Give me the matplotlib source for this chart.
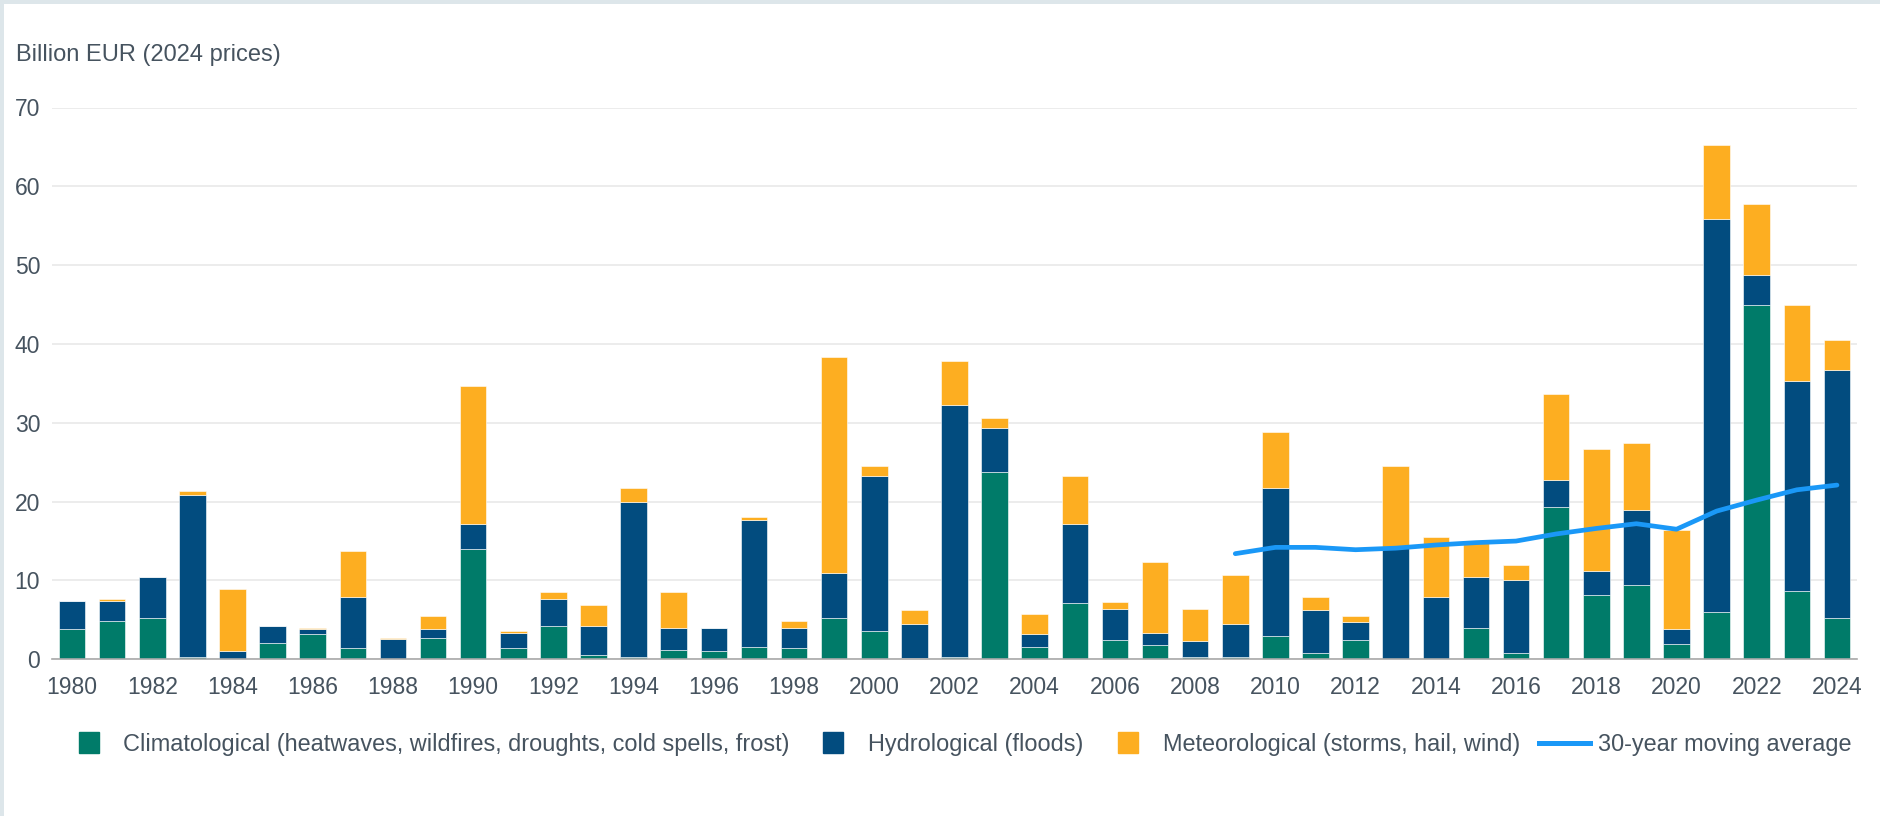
import numpy as np
import matplotlib.pyplot as plt
from matplotlib.patches import Rectangle
from matplotlib.lines import Line2D

# data (billion EUR, 2024 prices)
years = list(range(1980, 2025))

climatological = [3.8, 4.9, 5.3, 0.3, 0.0, 2.1, 3.2, 1.4, 0.1, 2.75,
                  14.0, 1.4, 4.2, 0.6, 0.3, 1.2, 1.0, 1.6, 1.4, 5.3,
                  3.6, 0.2, 0.3, 23.7, 1.6, 7.2, 2.5, 1.8, 0.3, 0.3,
                  2.9, 0.8, 2.5, 0.1, 0.1, 4.0, 0.8, 19.3, 8.1, 9.4,
                  1.9, 6.0, 44.9, 8.7, 5.3]

hydrological = [3.65, 2.55, 5.2, 20.55, 1.0, 2.1, 0.6, 6.5, 2.44, 1.05,
                3.2, 1.98, 3.46, 3.63, 19.7, 2.8, 3.0, 16.1, 2.6, 5.6,
                19.6, 4.24, 32.0, 5.6, 1.6, 10.0, 3.9, 1.58, 2.03, 4.2,
                18.8, 5.4, 2.2, 14.1, 7.8, 6.5, 9.3, 3.5, 3.1, 9.5,
                1.9, 49.8, 3.8, 26.6, 31.35]

meteorological = [0.0, 0.25, 0.0, 0.45, 7.97, 0.0, 0.2, 5.8, 0.16, 1.74,
                  17.5, 0.17, 0.88, 2.62, 1.7, 4.54, 0.0, 0.36, 0.9, 27.4,
                  1.3, 1.76, 5.6, 1.3, 2.55, 6.0, 0.83, 9.02, 4.07, 6.2,
                  7.1, 1.66, 0.83, 10.3, 7.6, 4.5, 1.9, 10.8, 15.45, 8.6,
                  12.6, 9.5, 9.1, 9.7, 3.85]

avg_years = list(range(2009, 2025))
moving_avg = [13.4, 14.2, 14.2, 13.9, 14.1, 14.5, 14.8, 15.0,
              15.9, 16.6, 17.2, 16.5, 18.8, 20.2, 21.5, 22.1]

legend_labels = ["Climatological (heatwaves, wildfires, droughts, cold spells, frost)",
                 "Hydrological (floods)",
                 "Meteorological (storms, hail, wind)",
                 "30-year moving average"]

# colours
c_green = "#007b69"
c_blue = "#024c7f"
c_yellow = "#fdae21"
c_line = "#1a98f7"
c_text = "#46535f"

plt.rcParams['font.family'] = ['Liberation Sans', 'DejaVu Sans']

W, H = 1880, 816
fig = plt.figure(figsize=(W/100, H/100), dpi=100)
ax = fig.add_axes([52/W, 1 - 659.3/H, (1857-52)/W, (659.3-107.5)/H])

# stacked bars
x = np.array(years)
clim = np.array(climatological)
hyd = np.array(hydrological)
met = np.array(meteorological)
bw = 0.66
ax.bar(x, clim, width=bw, color=c_green, edgecolor="white", linewidth=0.4, zorder=2)
ax.bar(x, hyd, bottom=clim, width=bw, color=c_blue, edgecolor="white", linewidth=0.4, zorder=2)
ax.bar(x, met, bottom=clim+hyd, width=bw, color=c_yellow, edgecolor="white", linewidth=0.4, zorder=2)

# moving average
ax.plot(avg_years, moving_avg, color=c_line, lw=3.4, solid_capstyle="round", zorder=3)

ax.set_xlim(1979.5, 2024.5)
ax.set_ylim(0, 70)
ax.set_yticks(range(0, 71, 10))
ax.set_xticks(years[::2])

for s in ["top", "right", "left"]:
    ax.spines[s].set_visible(False)
ax.spines["bottom"].set_color("#a9a9a9")
ax.spines["bottom"].set_linewidth(1.2)
ax.spines["bottom"].set_zorder(4)

ax.grid(axis="y", color="#e9e9e9", lw=1.2, zorder=0)
ax.tick_params(axis="x", length=0, pad=12, labelsize=16.5, labelcolor=c_text)
ax.tick_params(axis="y", length=0, pad=8.5, labelsize=16.5, labelcolor=c_text)

# axis title sitting above the plot
fig.text(16/W, 1 - 60.5/H, "Billion EUR (2024 prices)", fontsize=17,
         color=c_text, ha="left", va="baseline")

# hand made legend so the square and line markers get their own sizes
# (marker left edge and text start in pixels)
base = 1 - 751.5/H      # text baseline
mid = 1 - 742.5/H       # marker centre
marker_x = [79, 823, 1118, 1539]
text_x = [123, 868, 1163, 1598]
handles = [c_green, c_blue, c_yellow, None]
for i, lab in enumerate(legend_labels):
    mx = marker_x[i]
    if handles[i] is not None:
        fig.add_artist(Rectangle((mx/W, mid - 10.5/H), 20/W, 21/H,
                                 transform=fig.transFigure, color=handles[i]))
    else:
        fig.add_artist(Line2D([mx/W, (mx+51)/W], [mid, mid],
                              transform=fig.transFigure, color=c_line, lw=3.6))
    fig.text(text_x[i]/W, base, lab, fontsize=16.9, color=c_text,
             ha="left", va="baseline")

# light border of the card like in the screenshot
fig.add_artist(Line2D([0, 0, 1], [0, 1, 1], transform=fig.transFigure,
                      color="#dde6ea", lw=5))

fig.savefig("out.png", dpi=100)
